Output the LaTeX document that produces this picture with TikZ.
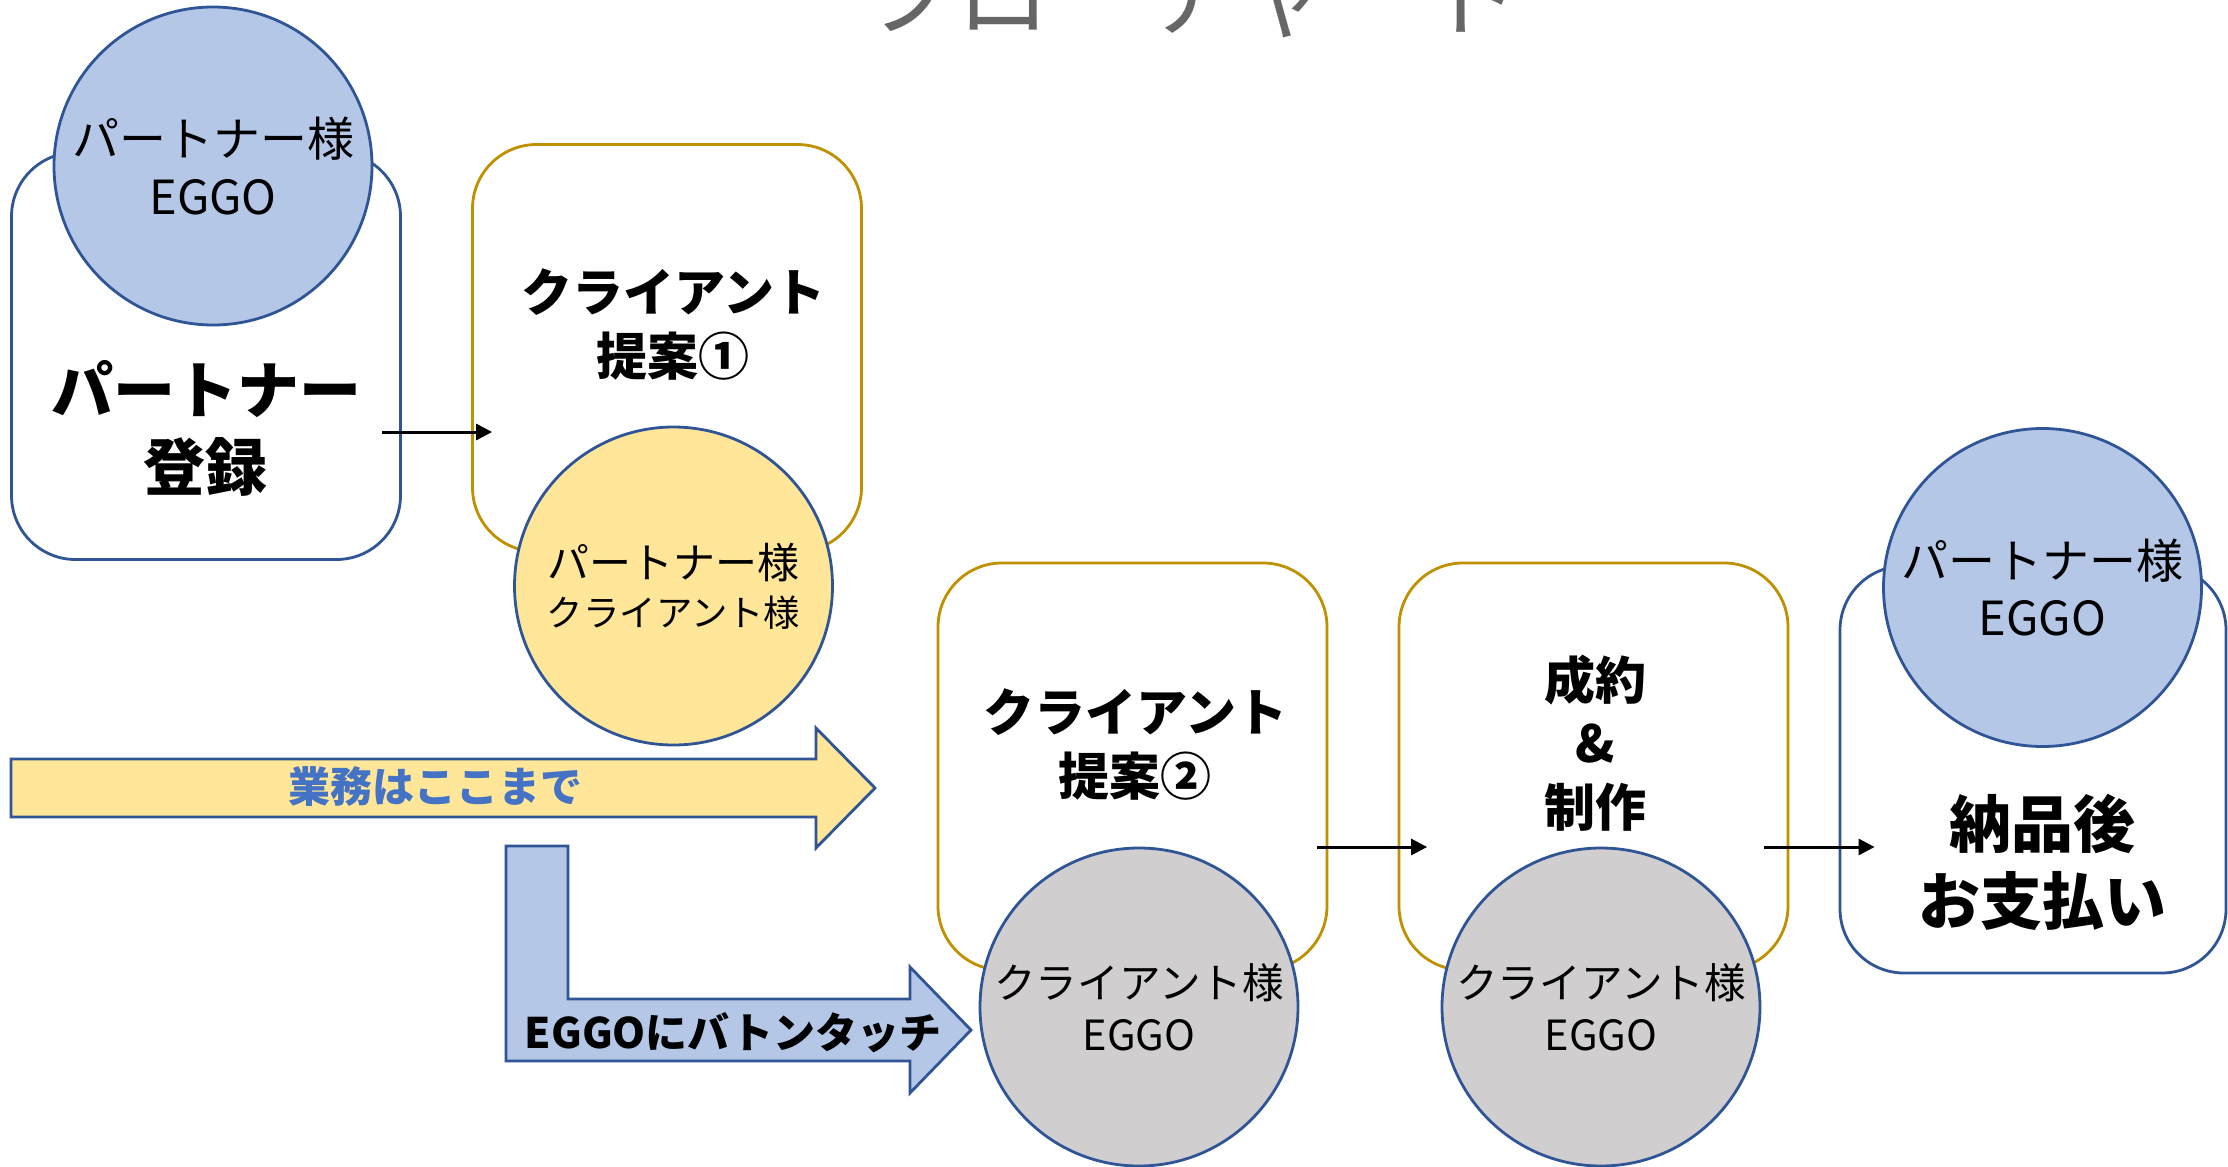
\documentclass[tikz,border=0pt]{standalone}
\usepackage{fontspec}
\setmainfont{Noto Sans CJK JP}
\usetikzlibrary{arrows.meta,calc}

\definecolor{lineblue}{HTML}{2F5597}
\definecolor{linegold}{HTML}{BF9000}
\definecolor{fillblue}{HTML}{B4C7E7}
\definecolor{fillyellow}{HTML}{FFE699}
\definecolor{fillgray}{HTML}{D0CECE}
\definecolor{textblue}{HTML}{4472C4}
\definecolor{titlegray}{HTML}{666666}

\tikzset{
  stepbox/.style={draw, line width=1.4pt, fill=white, rounded corners=32pt,
    minimum width=194.5pt, minimum height=203.5pt, inner sep=0pt},
  who/.style={draw=lineblue, line width=1.4pt, circle, minimum size=159pt,
    inner sep=0pt, align=center},
  flow/.style={line width=1.5pt, -{Triangle[length=8pt,width=8pt]}},
  bigtxt/.style={font=\bfseries\fontsize{31}{38.5}\selectfont, align=center},
  midtxt/.style={font=\bfseries\fontsize{25.5}{32}\selectfont, align=center},
}

\begin{document}
\begin{tikzpicture}[x=0.5pt,y=0.5pt,yscale=-1]
\useasboundingbox (0,0) rectangle (2228,1167);
\clip (0,0) rectangle (2228,1167);

%Title (cut at the top edge)
\node[anchor=base, inner sep=0pt, text=titlegray, font=\fontsize{47}{50}\selectfont] (title) at (1191,29) {フローチャート};

%Rounded Rect
\node[stepbox, draw=lineblue] (reg) at (206,356) {};
\node[stepbox, draw=linegold] (prop1) at (667,348) {};
\node[stepbox, draw=linegold] (prop2) at (1132.5,766.5) {};
\node[stepbox, draw=linegold] (deal) at (1593.5,766.5) {};
\node[stepbox, draw=lineblue, minimum width=193pt] (pay) at (2033,769.5) {};

%Text Node
\node[bigtxt] (reg-t) at (206,428) {パートナー\\登録};
\node[midtxt] (prop1-t) at (673,324.5) {クライアント\\提案①};
\node[midtxt] (prop2-t) at (1135,744) {クライアント\\提案②};
\node[midtxt, font=\bfseries\fontsize{25.5}{31.75}\selectfont] (deal-t) at (1595,743) {成約\\\&\\制作};
\node[bigtxt] (pay-t) at (2042,862.5) {納品後\\お支払い};

%Shape: Circle
\node[who, fill=fillblue, font=\fontsize{23.5}{29}\selectfont] (who1) at (213,166) {パートナー様\\EGGO};
\node[who, fill=fillyellow, font=\fontsize{21}{24}\selectfont] (who2) at (673.5,586) {パートナー様\\{\fontsize{18.2}{24}\selectfont クライアント様}};
\node[who, fill=fillgray, font=\fontsize{20.8}{26}\selectfont] (who3) at (1139,1007) {クライアント様\\EGGO};
\node[who, fill=fillgray, font=\fontsize{20.8}{26}\selectfont] (who4) at (1601,1007) {クライアント様\\EGGO};
\node[who, fill=fillblue, font=\fontsize{23.5}{28.5}\selectfont] (who5) at (2042.5,587.5) {パートナー様\\EGGO};

%Straight Lines
\draw[flow] ($(reg.east)+(-20,76)$) -- ($(prop1.west)+(21,84)$);
\draw[flow] ($(prop2.east)+(-11,80.5)$) -- ($(deal.west)+(29.5,80.5)$);
\draw[flow] ($(deal.east)+(-25,80.5)$) -- ($(pay.west)+(36,77.5)$);

%Right Arrow
\draw[draw=lineblue, line width=1.4pt, fill=fillyellow] (11,759) -- (816,759) -- (816,728) -- (875,788) -- (816,848) -- (816,817) -- (11,817) -- cycle;
\node[font=\bfseries\fontsize{21}{24}\selectfont, text=textblue] (stop-t) at (435,787) {業務はここまで};

%Bent Arrow
\draw[draw=lineblue, line width=1.4pt, fill=fillblue] (506,846) -- (568,846) -- (568,999) -- (910,999) -- (910,967) -- (971,1030) -- (910,1093) -- (910,1061) -- (506,1061) -- cycle;
\node[font=\bfseries\fontsize{21}{24}\selectfont] (pass-t) at (733,1033) {EGGOにバトンタッチ};

\end{tikzpicture}
\end{document}
